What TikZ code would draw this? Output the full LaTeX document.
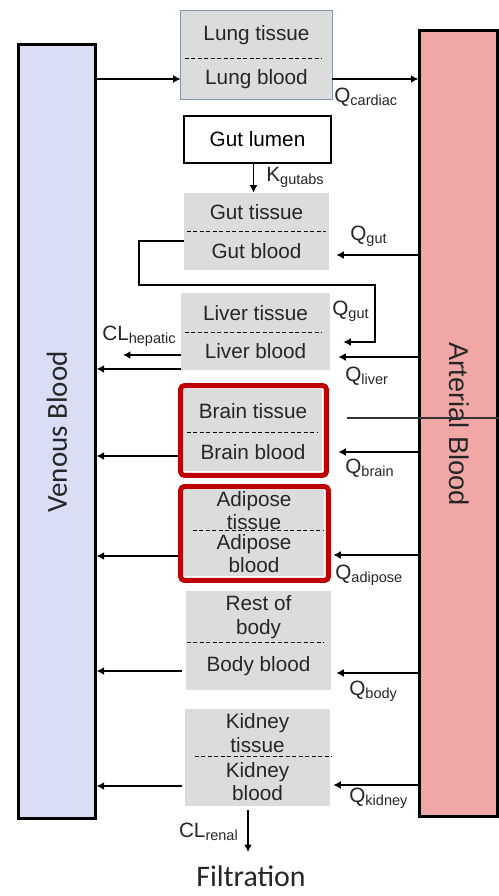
\documentclass[tikz,border=0pt]{standalone}
\usepackage{fontspec}
\setmainfont{Liberation Sans}
\newfontfamily\carlito{Carlito}
\usepackage{tikz}
\usetikzlibrary{arrows.meta, positioning, calc}
\usepackage{xcolor}

\definecolor{venousfill}{RGB}{218,222,245}
\definecolor{arterialfill}{RGB}{242,167,167}
\definecolor{organgray}{RGB}{220,220,220}
\definecolor{lungedge}{RGB}{132,151,176}
\definecolor{brainred}{RGB}{192,0,0}

\begin{document}
\begin{tikzpicture}[
    x=0.02cm, y=-0.02cm,
    >=Latex,
    every node/.style={font=\fontsize{11.8}{13.5}\selectfont},
    pool/.style={
        rectangle,
        draw=black,
        line width=1.3pt,
        inner sep=0pt
    },
    pooltext/.style={
        font=\fontsize{15.5}{17}\selectfont,
        text=black!85
    },
    organ/.style={
        rectangle,
        fill=organgray,
        inner sep=0pt,
        align=center,
        text=black!85
    },
    flow/.style={
        -{Latex[length=1.5mm,width=1.6mm]},
        line width=1.1pt,
        draw=black
    },
    divider/.style={
        dash pattern=on 0.08cm off 0.05cm,
        line width=0.5pt
    },
    hilite/.style={
        draw=brainred,
        line width=0.1cm,
        rounded corners=2pt
    },
    lab/.style={
        anchor=west,
        inner sep=0pt,
        text=black!85
    }
]
\useasboundingbox (0,0) rectangle (499,896);
% blood pools
\node[pool, fill=venousfill, minimum width=1.54cm, minimum height=15.48cm] (venous) at (57,431.5) {};
\node[pool, fill=arterialfill, minimum width=1.56cm, minimum height=15.72cm] (arterial) at (458.5,423.5) {};
\node[pooltext, rotate=90] (venoustxt) at (57,432) {\carlito\fontsize{16.5}{18}\selectfont Venous Blood};
\node[pooltext, rotate=-90] (arterialtxt) at (459,424) {Arterial Blood};
% compartments
\node[organ, minimum width=3.02cm, minimum height=0.96cm] (lungT) at (256.5,35) {Lung tissue};
\node[organ, minimum width=3.02cm, minimum height=0.8cm] (lungB) at (256.5,79) {Lung blood};
\draw[draw=lungedge, line width=0.6pt] (lungT.north west) rectangle (lungB.south east);
\node[rectangle, draw, line width=0.6pt, fill=white, minimum width=2.94cm, minimum height=0.94cm] (lumen) at (257.5,139.5) {Gut lumen};
\node[organ, minimum width=2.9cm, minimum height=0.78cm] (gutT) at (256.5,212.5) {Gut tissue};
\node[organ, minimum width=2.9cm, minimum height=0.76cm] (gutB) at (256.5,251) {Gut blood};
\node[organ, minimum width=2.98cm, minimum height=0.8cm] (liverT) at (255.5,313) {Liver tissue};
\node[organ, minimum width=2.98cm, minimum height=0.74cm] (liverB) at (255.5,351.5) {Liver blood};
\node[organ, minimum width=2.76cm, minimum height=0.88cm] (brainT) at (253,411) {Brain tissue};
\node[organ, minimum width=2.76cm, minimum height=0.76cm] (brainB) at (253,452) {Brain blood};
\node[organ, minimum width=2.8cm, minimum height=0.82cm] (adipT) at (254,510.5) {Adipose\\tissue};
\node[organ, minimum width=2.8cm, minimum height=0.9cm] (adipB) at (254,553.5) {Adipose\\blood};
\node[organ, minimum width=2.9cm, minimum height=1.04cm] (bodyT) at (258.5,617) {Rest of\\body};
\node[organ, minimum width=2.9cm, minimum height=0.94cm] (bodyB) at (258.5,666.5) {Body blood};
\node[organ, minimum width=2.9cm, minimum height=0.96cm] (kidT) at (257.5,733) {Kidney\\tissue};
\node[organ, minimum width=2.9cm, minimum height=0.98cm] (kidB) at (257.5,781.5) {Kidney\\blood};
% tissue / blood dividers
\draw[divider] ([xshift=0.08cm]lungB.north west) -- ([xshift=-0.2cm]lungB.north east);
\draw[divider] ([xshift=0.06cm]gutB.north west) -- ([xshift=-0.06cm]gutB.north east);
\draw[divider] ([xshift=0.08cm]liverB.north west) -- ([xshift=-0.16cm]liverB.north east);
\draw[divider] ([xshift=0.06cm]brainB.north west) -- ([xshift=-0.08cm]brainB.north east);
\draw[divider] ([xshift=0.18cm]adipB.north west) -- ([xshift=0cm]adipB.north east);
\draw[divider] ([xshift=0.02cm]bodyB.north west) -- ([xshift=-0.14cm]bodyB.north east);
\draw[divider] ([xshift=0.2cm]kidB.north west) -- ([xshift=0.04cm]kidB.north east);
\draw[hilite] ([shift={(-3,-3)}]brainT.north west) rectangle ([shift={(4,4)}]brainB.south east);
\draw[hilite] ([shift={(-3,-3)}]adipT.north west) rectangle ([shift={(4,4)}]adipB.south east);
% end points
\coordinate (gutin) at ([xshift=0.14cm,yshift=-0.08cm]gutB.east);
\coordinate (gutout) at ([yshift=0.2cm]gutB.west);
\coordinate (portal) at ([xshift=0.26cm,yshift=0.19cm]liverB.east);
\coordinate (hepout) at (123,355);
\coordinate (liverout) at ([yshift=-0.35cm]liverB.west);
\coordinate (liverin) at ([xshift=0.16cm,yshift=-0.11cm]liverB.east);
\coordinate (brainout) at ([xshift=-0.12cm,yshift=-0.08cm]brainB.west);
\coordinate (brainin) at ([xshift=0.32cm]brainB.east);
\coordinate (brainline) at ([xshift=0.5cm,yshift=-0.14cm]brainT.east);
\coordinate (adipout) at ([xshift=-0.12cm,yshift=-0.05cm]adipB.west);
\coordinate (adipin) at ([xshift=0.18cm,yshift=-0.03cm]adipB.east);
\coordinate (bodyout) at ([xshift=-0.08cm,yshift=-0.09cm]bodyB.west);
\coordinate (bodyin) at ([xshift=0.1cm,yshift=-0.13cm]bodyB.east);
\coordinate (kidout) at ([xshift=-0.06cm,yshift=-0.09cm]kidB.west);
\coordinate (kidin) at ([xshift=0.06cm,yshift=-0.07cm]kidB.east);
\coordinate (renalout) at (248,852);
% flows
\draw[flow] (venous.east |- lungB) -- (lungB.west);
\draw[flow] (lungB.east) -- (arterial.west |- lungB);
\draw[flow] ([xshift=-0.08cm]lumen.south) -- ([xshift=-0.06cm]gutT.north);
\draw[flow] (arterial.west |- gutin) -- (gutin);
\draw[flow] (gutout) -- ++(-45,0) -- ++(0,44) -- ++(236,0) |- (portal);
\draw[flow] (liverB.west |- hepout) -- (hepout);
\draw[flow] (liverout) -- (liverout -| venous.east);
\draw[flow] (arterial.west |- liverin) -- (liverin);
\draw[flow] (brainout) -- (brainout -| venous.east);
\draw[flow] (arterial.west |- brainin) -- (brainin);
\draw[line width=0.6pt, draw=black!80] (brainline) -- (brainline -| arterial.east);
\draw[flow] (adipout) -- (adipout -| venous.east);
\draw[flow] (arterial.west |- adipin) -- (adipin);
\draw[flow] (bodyout) -- (bodyout -| venous.east);
\draw[flow] (arterial.west |- bodyin) -- (bodyin);
\draw[flow] (kidout) -- (kidout -| venous.east);
\draw[flow] (arterial.west |- kidin) -- (kidin);
\draw[flow] ([yshift=-0.08cm]kidB.south -| renalout) -- (renalout);
% labels
\node[lab] (qcard) at (334,97) {Q\textsubscript{cardiac}};
\node[lab] (kgut) at (266,177) {K\textsubscript{gutabs}};
\node[lab] (qgut) at (350,236) {Q\textsubscript{gut}};
\node[lab] (qgutliv) at (332,311) {Q\textsubscript{gut}};
\node[lab] (clhep) at (102,336) {CL\textsubscript{hepatic}};
\node[lab] (qliver) at (345,376) {Q\textsubscript{liver}};
\node[lab] (qbrain) at (345,468) {Q\textsubscript{brain}};
\node[lab] (qadip) at (335,575) {Q\textsubscript{adipose}};
\node[lab] (qbody) at (349,691) {Q\textsubscript{body}};
\node[lab] (qkid) at (349,798) {Q\textsubscript{kidney}};
\node[lab, anchor=east] (clren) at (239,832) {CL\textsubscript{renal}};
\node[font=\carlito\fontsize{17}{19}\selectfont, text=black!85, inner sep=0pt] (filtration) at (251,876) {Filtration};
\end{tikzpicture}
\end{document}
